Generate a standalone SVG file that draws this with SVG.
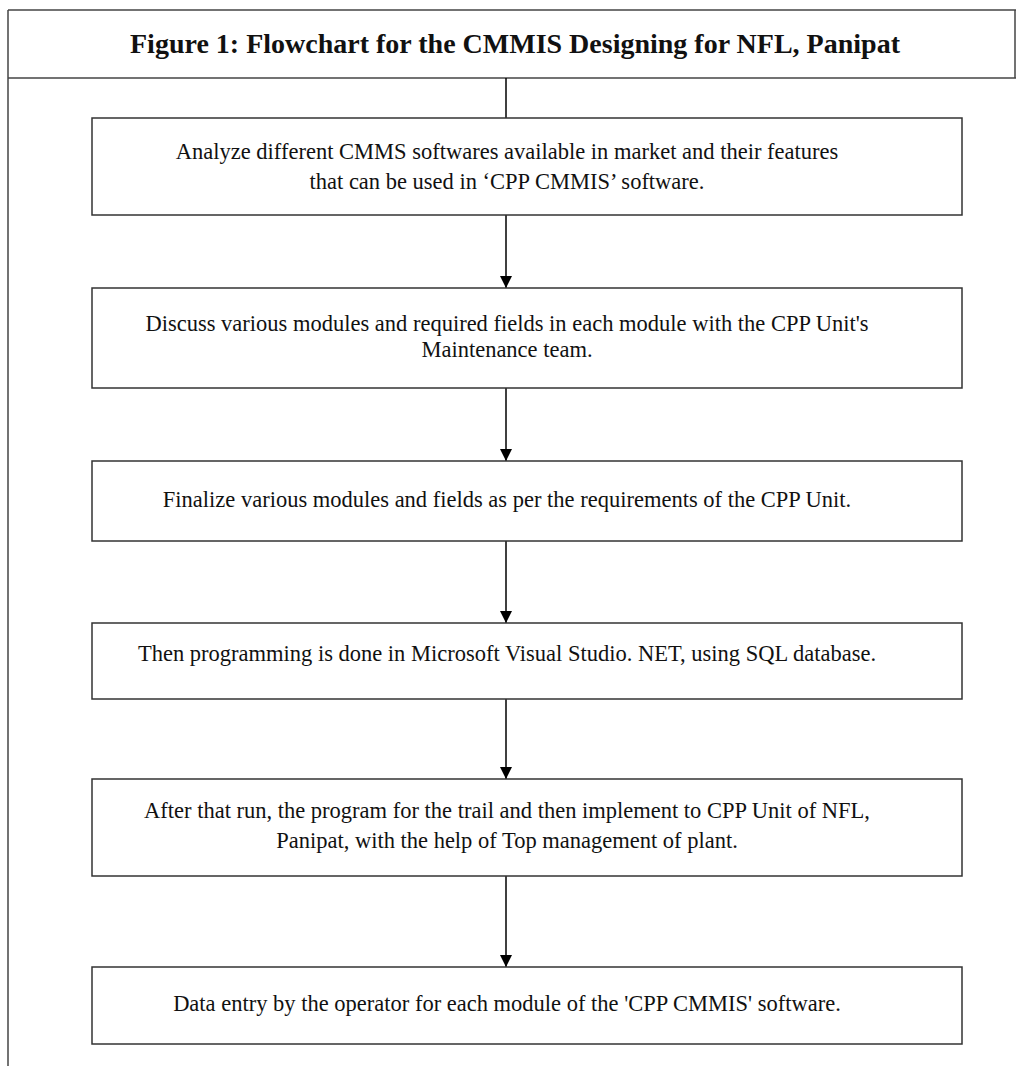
<svg xmlns="http://www.w3.org/2000/svg" width="1016" height="1066" viewBox="0 0 1016 1066">
<defs>
<style>
.frame{stroke:#444;stroke-width:1.5;fill:none}
.box{fill:#fff;stroke:#333;stroke-width:1.5}
.t{font-family:"Liberation Serif","Times New Roman",serif;font-size:22.5px;fill:#111;text-anchor:middle}
.title{font-family:"Liberation Serif","Times New Roman",serif;font-size:28px;font-weight:bold;fill:#111;text-anchor:middle}
.conn{stroke:#000;stroke-width:1.5;fill:none;marker-end:url(#ah)}
</style>
<marker id="ah" viewBox="0 0 12 12" refX="12" refY="6" markerWidth="12" markerHeight="12" markerUnits="userSpaceOnUse" orient="auto">
<path d="M0,0 L12,6 L0,12 z" fill="#000"/>
</marker>
</defs>
<rect width="1016" height="1066" fill="#fff"/>
<g id="frame">
<line class="frame" x1="8" y1="10" x2="1016" y2="10"/>
<line class="frame" x1="8" y1="78" x2="1016" y2="78"/>
<line class="frame" x1="8" y1="10" x2="8" y2="1066"/>
<line class="frame" x1="1015" y1="10" x2="1015" y2="78"/>
<text class="title" x="515" y="53">Figure 1: Flowchart for the CMMIS Designing for NFL, Panipat</text>
</g>
<g id="connectors">
<line x1="506" y1="78" x2="506" y2="118" stroke="#000" stroke-width="1.5"/>
<line class="conn" x1="506" y1="215" x2="506" y2="288"/>
<line class="conn" x1="506" y1="388" x2="506" y2="461"/>
<line class="conn" x1="506" y1="541" x2="506" y2="623"/>
<line class="conn" x1="506" y1="699" x2="506" y2="779"/>
<line class="conn" x1="506" y1="876" x2="506" y2="967"/>
</g>
<g id="n1">
<rect class="box" x="92" y="118" width="870" height="97"/>
<text class="t" x="507" y="159">Analyze different CMMS softwares available in market and their features</text>
<text class="t" x="507" y="189">that can be used in ‘CPP CMMIS’ software.</text>
</g>
<g id="n2">
<rect class="box" x="92" y="288" width="870" height="100"/>
<text class="t" x="507" y="331">Discuss various modules and required fields in each module with the CPP Unit's</text>
<text class="t" x="507" y="357">Maintenance team.</text>
</g>
<g id="n3">
<rect class="box" x="92" y="461" width="870" height="80"/>
<text class="t" x="507" y="507">Finalize various modules and fields as per the requirements of the CPP Unit.</text>
</g>
<g id="n4">
<rect class="box" x="92" y="623" width="870" height="76"/>
<text class="t" x="507" y="661">Then programming is done in Microsoft Visual Studio. NET, using SQL database.</text>
</g>
<g id="n5">
<rect class="box" x="92" y="779" width="870" height="97"/>
<text class="t" x="507" y="818">After that run, the program for the trail and then implement to CPP Unit of NFL,</text>
<text class="t" x="507" y="848">Panipat, with the help of Top management of plant.</text>
</g>
<g id="n6">
<rect class="box" x="92" y="967" width="870" height="77"/>
<text class="t" x="507" y="1011">Data entry by the operator for each module of the 'CPP CMMIS' software.</text>
</g>
</svg>
